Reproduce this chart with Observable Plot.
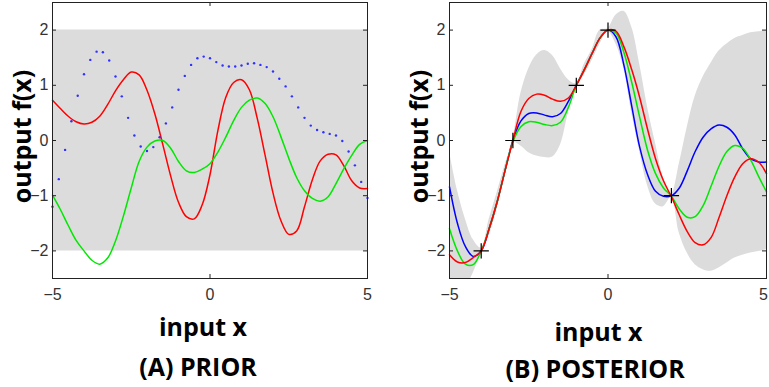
<!DOCTYPE html>
<html><head><meta charset="utf-8">
<script src="https://cdn.jsdelivr.net/npm/d3@7"></script>
<script src="https://cdn.jsdelivr.net/npm/@observablehq/plot@0.6"></script>
<style>
body{margin:0;background:#fff;}
#wrap{position:relative;width:769px;height:387px;overflow:hidden;background:#fff;}
#wrap > svg{position:absolute;top:0;}
</style></head><body><div id="wrap"></div>
<script>
// ---------- shared ticks ----------
const xTicks = [-5, 0, 5];
const yTicks = [-2, -1, 0, 1, 2];

// ---------- x grid (step 0.25) ----------
const xGrid = [-5,-4.75,-4.5,-4.25,-4,-3.75,-3.5,-3.25,-3,-2.75,-2.5,-2.25,-2,-1.75,-1.5,-1.25,-1,-0.75,-0.5,-0.25,0,
  0.25,0.5,0.75,1,1.25,1.5,1.75,2,2.25,2.5,2.75,3,3.25,3.5,3.75,4,4.25,4.5,4.75,5];

// ---------- (A) PRIOR ----------
const priorBandX = [-5, 5];
const priorBandLo = [-2, -2];
const priorBandHi = [2, 2];
const priorRed = [0.73,0.58,0.44,0.34,0.30,0.33,0.44,0.65,0.90,1.10,1.24,1.19,0.91,0.48,-0.07,-0.64,-1.12,-1.38,-1.42,-1.17,-0.62,
  0.18,0.78,1.05,1.10,0.92,0.40,-0.27,-0.95,-1.45,-1.70,-1.64,-1.20,-0.71,-0.37,-0.25,-0.26,-0.46,-0.73,-0.86,-0.87];
const priorGreen = [-0.99,-1.25,-1.54,-1.81,-2.00,-2.17,-2.24,-2.13,-1.82,-1.37,-0.86,-0.38,-0.12,-0.01,0.00,-0.14,-0.38,-0.55,-0.58,-0.52,-0.42,
  -0.21,0.06,0.36,0.60,0.73,0.77,0.67,0.43,0.07,-0.32,-0.67,-0.91,-1.05,-1.10,-1.02,-0.78,-0.51,-0.27,-0.07,0.00];
const priorDotX = [-5,-4.8,-4.6,-4.4,-4.2,-4,-3.8,-3.6,-3.4,-3.2,-3,-2.8,-2.6,-2.4,-2.2,-2,-1.8,-1.6,-1.4,-1.2,-1,-0.8,-0.6,-0.4,-0.2,0,
  0.2,0.4,0.6,0.8,1,1.2,1.4,1.6,1.8,2,2.2,2.4,2.6,2.8,3,3.2,3.4,3.6,3.8,4,4.2,4.4,4.6,4.8,5];
const priorBlue = [-1.20,-0.70,-0.17,0.35,0.81,1.20,1.46,1.61,1.60,1.45,1.16,0.80,0.41,0.09,-0.11,-0.19,-0.12,0.06,0.31,0.60,0.92,1.17,1.37,1.49,1.52,1.49,
  1.42,1.36,1.34,1.34,1.36,1.39,1.40,1.37,1.33,1.25,1.12,0.98,0.80,0.60,0.41,0.27,0.19,0.15,0.12,0.09,-0.01,-0.20,-0.45,-0.75,-1.04];

// ---------- (B) POSTERIOR ----------
const trainX = [-4, -3, -1, 0, 2];
const trainY = [-2, 0, 1, 2, -1];
const postBandHi = [-0.20,-0.90,-1.42,-1.80,-1.95,-1.43,-0.95,-0.45,0.03,0.85,1.30,1.55,1.63,1.54,1.30,1.10,1.03,1.38,1.65,2.00,2.03,
  2.27,2.34,2.05,1.38,0.60,-0.05,-0.68,-0.97,-0.42,0.24,0.80,1.15,1.40,1.62,1.75,1.85,1.90,1.95,1.97,1.99];
const postBandLo = [-3.60,-3.10,-2.70,-2.40,-2.05,-1.73,-1.25,-0.65,-0.03,-0.10,-0.22,-0.28,-0.31,-0.30,-0.08,0.50,0.97,1.18,1.45,1.75,1.97,
  1.75,1.30,0.50,-0.20,-0.82,-1.15,-1.20,-1.03,-1.68,-2.04,-2.25,-2.34,-2.37,-2.31,-2.22,-2.13,-2.08,-2.04,-2.01,-1.98];
const postBlue = [-0.84,-1.50,-1.92,-2.10,-2.00,-1.60,-1.12,-0.55,0.00,0.35,0.49,0.50,0.46,0.43,0.49,0.71,1.00,1.28,1.58,1.86,2.00,
  1.88,1.37,0.62,-0.12,-0.62,-0.92,-1.01,-1.00,-0.86,-0.55,-0.20,0.06,0.21,0.28,0.24,0.10,-0.15,-0.33,-0.39,-0.39];
const postGreen = [-1.60,-2.00,-2.24,-2.25,-2.00,-1.60,-1.12,-0.55,-0.02,0.25,0.34,0.33,0.29,0.27,0.33,0.60,1.00,1.28,1.58,1.86,2.00,
  1.95,1.60,1.05,0.42,-0.18,-0.60,-0.86,-1.01,-1.24,-1.39,-1.38,-1.18,-0.83,-0.47,-0.20,-0.09,-0.14,-0.35,-0.65,-0.93];
const postRed = [-2.07,-2.20,-2.21,-2.12,-2.00,-1.60,-1.12,-0.55,0.00,0.52,0.76,0.84,0.82,0.75,0.71,0.77,1.00,1.28,1.58,1.86,2.00,
  1.98,1.70,1.28,0.78,0.20,-0.33,-0.73,-1.02,-1.35,-1.65,-1.85,-1.89,-1.76,-1.40,-1.00,-0.66,-0.42,-0.33,-0.39,-0.60];

// ---------- texts ----------
const yLabel = "output f(x)";
const xLabel = "input x";
const titleA = "(A) PRIOR";
const titleB = "(B) POSTERIOR";

const rows = (xs, ys) => xs.map((x, i) => ({x, y: ys[i]}));
const band = (xs, lo, hi) => xs.map((x, i) => ({x, lo: lo[i], hi: hi[i]}));

const H = 387, MT = 2, MB = 109;
const frameH = H - MT - MB;
const boldFont = {fontFamily: "'Open Sans', sans-serif", fontWeight: "bold", fontSize: 25, fill: "#000"};
const tickFont = {fontFamily: "'Liberation Sans', Arial, sans-serif", fontSize: 16, fill: "#333"};
const fmt = d3.format("d");

function panel({width, ml, mr, marks, xDx, xDy, lastDx}) {
  const frameW = width - ml - mr;
  return Plot.plot({
    width, height: H, marginLeft: ml, marginRight: mr, marginTop: MT, marginBottom: MB,
    style: {fontFamily: "'Liberation Sans', Arial, sans-serif", fontSize: "16px", color: "#333", background: "transparent", overflow: "visible"},
    x: {domain: [-5, 5], axis: null},
    y: {domain: [-2.5, 2.5], ticks: yTicks, tickSize: 0, tickPadding: 4, tickFormat: fmt, label: null},
    marks: [
      ...marks,
      Plot.frame({stroke: "#222"}),
      Plot.tickX(xTicks, {x: d => d, insetTop: frameH - 4, stroke: "#222"}),
      Plot.tickX(xTicks, {x: d => d, insetBottom: frameH - 4, stroke: "#222"}),
      Plot.tickY(yTicks, {y: d => d, insetRight: frameW - 4, stroke: "#222"}),
      Plot.tickY(yTicks, {y: d => d, insetLeft: frameW - 4, stroke: "#222"}),
      Plot.axisX(xTicks.slice(0, 2), {anchor: "bottom", tickSize: 0, tickPadding: 10, tickFormat: fmt, label: null, ...tickFont}),
      Plot.axisX(xTicks.slice(2), {anchor: "bottom", tickSize: 0, tickPadding: 10, tickFormat: fmt, label: null, dx: lastDx, ...tickFont}),
      Plot.text([yLabel], {frameAnchor: "left", rotate: -90, dx: -21.5, dy: -4, textAnchor: "middle", lineAnchor: "bottom", ...boldFont}),
      Plot.text([xLabel], {frameAnchor: "bottom", dx: xDx, dy: xDy, textAnchor: "middle", lineAnchor: "bottom", ...boldFont}),
    ]
  });
}

const lineOpts = (c) => ({x: "x", y: "y", stroke: c, strokeWidth: 1.5, curve: "catmull-rom"});

const svgA = panel({
  width: 380, ml: 52, mr: 13, xDx: -7, xDy: 57, lastDx: 0,
  marks: [
    Plot.areaY(band(priorBandX, priorBandLo, priorBandHi), {x: "x", y1: "lo", y2: "hi", fill: "#dcdcdc"}),
    Plot.line(rows(xGrid, priorRed), lineOpts("#ff0000")),
    Plot.line(rows(xGrid, priorGreen), lineOpts("#00e800")),
    Plot.dot(rows(priorDotX, priorBlue), {x: "x", y: "y", r: 1.2, fill: "#3030ff", stroke: null}),
    Plot.text([titleA], {frameAnchor: "bottom", dx: -12, dy: 97, textAnchor: "middle", lineAnchor: "bottom", ...boldFont})
  ]
});
svgA.style.left = "0px";

const svgB = panel({
  width: 379, ml: 59, mr: 3, xDx: -9.5, xDy: 62, lastDx: -3,
  marks: [
    Plot.areaY(band(xGrid, postBandLo, postBandHi), {x: "x", y1: "lo", y2: "hi", fill: "#dcdcdc", curve: "catmull-rom", clip: true}),
    Plot.line(rows(xGrid, postBlue), lineOpts("#0000ff")),
    Plot.line(rows(xGrid, postGreen), lineOpts("#00e800")),
    Plot.line(rows(xGrid, postRed), lineOpts("#ff0000")),
    Plot.dot(rows(trainX, trainY), {x: "x", y: "y", symbol: "plus", r: 5, stroke: "#000", strokeWidth: 1.2}),
    Plot.text([titleB], {frameAnchor: "bottom", dx: -13, dy: 99, textAnchor: "middle", lineAnchor: "bottom", ...boldFont})
  ]
});
svgB.style.left = "390px";

const wrap = document.getElementById("wrap");
wrap.appendChild(svgA);
wrap.appendChild(svgB);
</script>
</body></html>
